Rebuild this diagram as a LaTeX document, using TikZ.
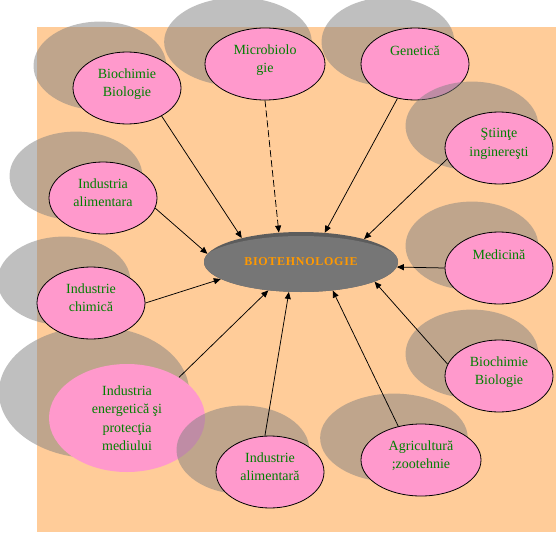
\documentclass[tikz,border=0pt]{standalone}
\usepackage{fontspec}
\setmainfont{Liberation Serif}
\newfontfamily\spacedfont[LetterSpace=6]{Liberation Serif}
\usetikzlibrary{arrows.meta,shapes.geometric,shadows}
\definecolor{BioPeach}{HTML}{FFCC99}
\definecolor{BioPink}{HTML}{FF99CC}
\definecolor{BioGreen}{HTML}{008000}
\definecolor{BioOrange}{HTML}{FF9900}
\definecolor{DiskGray}{HTML}{767676}
\definecolor{DiskRim}{HTML}{5C5C5C}

\begin{document}
\begin{tikzpicture}[x=1pt,y=-1pt,>={Triangle[length=7pt,width=6pt]},
  field/.style={ellipse,fill=BioPink,draw=black,line width=0.8pt,
    minimum width=108pt,minimum height=72pt,inner sep=0pt,align=center,
    text=BioGreen,font=\fontsize{14}{18.5}\selectfont},
  cast/.style={drop shadow={shadow xshift=-22pt,shadow yshift=18pt,
    shadow scale=1.23,fill=black!50,opacity=.5}},
  oneline/.style={text depth=27pt},
  twoline/.style={text depth=11pt},
  link/.style={->,line width=0.75pt}]
  \useasboundingbox (0,0) rectangle (556,532);
  \fill[BioPeach] (37,27) rectangle (556,532);
  % fields round the centre
  \node[field,cast,twoline] (bioTL) at (127,88) {Biochimie\\Biologie};
  \node[field,cast,twoline,minimum width=120pt] (micro) at (265,64) {Microbiolo\\gie};
  \node[field,cast,oneline] (genetics) at (415,64) {Genetică};
  \node[field,cast,twoline] (eng) at (499,148) {Ştiinţe\\inginereşti};
  \node[field,cast,oneline] (med) at (499,268) {Medicină};
  \node[field,cast,twoline] (bioBR) at (499,376) {Biochimie\\Biologie};
  \node[field,cast,twoline,minimum width=120pt] (agri) at (421,460) {Agricultură\\;zootehnie};
  \node[field,draw=none,minimum width=156pt,minimum height=108pt,
    drop shadow={shadow xshift=-27pt,shadow yshift=21pt,shadow scale=1.22,
    fill=black!50,opacity=.5}] (energy) at (127,418)
    {Industria\\energetică şi\\protecţia\\mediului};
  \node[field,cast,twoline] (foodB) at (270,472) {Industrie\\alimentară};
  \node[field,cast,twoline] (chem) at (91,303) {Industrie\\chimică};
  \node[field,cast,twoline] (foodL) at (103,198) {Industria\\alimentara};
  % centre disk
  \node[ellipse,minimum width=194pt,minimum height=60pt,inner sep=0pt,fill=DiskRim,
    path picture={\fill[DiskGray] ([yshift=-5pt]path picture bounding box.center)
      ellipse [x radius=104pt,y radius=31pt];},
    text=BioOrange,font=\spacedfont\bfseries\fontsize{12}{14}\selectfont]
    (core) at (301,262) {BIOTEHNOLOGIE};
  % arrows
  \draw[link] (bioTL.-39) -- (core.158);
  \draw[link,dash pattern=on 7pt off 3pt] (micro.-90) -- (core.127);
  \draw[link] (genetics.-117) -- (core.51);
  \draw[link] (eng.192) -- (core.20);
  \draw[link] (med.180) -- (core.-3);
  \draw[link] (bioBR.167) -- (core.-15);
  \draw[link] (agri.124) -- (core.318);
  \draw[link] (foodB.98) -- (core.248);
  \draw[link] (energy.38) -- (core.221);
  \draw[link] (chem.0) -- (core.192);
  \draw[link] (foodL.-11) -- (core.175);
\end{tikzpicture}
\end{document}
